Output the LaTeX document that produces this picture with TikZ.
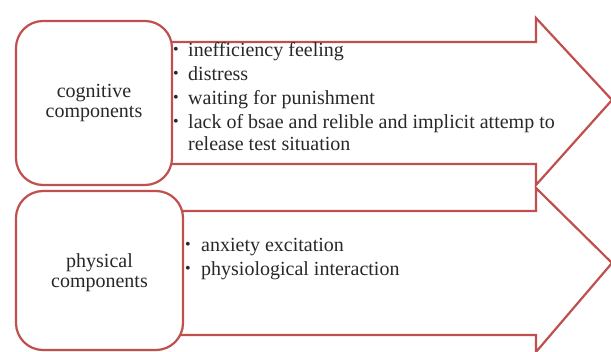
\documentclass[tikz,border=0pt]{standalone}
\usepackage{fontspec}
\setmainfont{Liberation Serif}
\definecolor{edge}{RGB}{192,80,77}
\definecolor{ink}{RGB}{40,40,40}
\tikzset{
  shape line/.style={draw=edge, line width=2.2pt, fill=white, line join=miter},
  compbox/.style={draw=edge, line width=2.2pt, fill=white, rounded corners=27pt},
  boxtext/.style={font=\fontsize{20}{20}\selectfont, text=ink, align=center, inner sep=0pt},
  item/.style={font=\fontsize{20}{20}\selectfont, text=ink, anchor=base west, inner sep=0pt},
  dot/.style={font=\fontsize{16}{16}\selectfont, text=ink, anchor=center, inner sep=0pt}
}
\begin{document}
\begin{tikzpicture}[x=1pt,y=-1pt]
\useasboundingbox (0,0) rectangle (611,352);
% top arrow
\draw[shape line] (100,42) -- (536,42) -- (536,18) -- (612,100) -- (536,185) -- (536,164) -- (100,164) -- cycle;
% bottom arrow
\draw[shape line] (100,211) -- (536,211) -- (536,188) -- (612,263) -- (536,352) -- (536,335) -- (100,335) -- cycle;
% boxes
\draw[compbox] (16,21) rectangle (172,185);
\draw[compbox] (16,191) rectangle (183,350);
\node[boxtext] (cog) at (94,103) {cognitive\\components};
\node[boxtext] (phy) at (99.5,273) {physical\\components};
% top bullets
\node[dot] (b1) at (176,51) {•};
\node[item] (t1) at (188,57) {inefficiency feeling};
\node[dot] (b2) at (176,75) {•};
\node[item] (t2) at (188,81) {distress};
\node[dot] (b3) at (176,99) {•};
\node[item] (t3) at (188,105) {waiting for punishment};
\node[dot] (b4) at (176,123) {•};
\node[item] (t4) at (188,129) {lack of bsae and relible and implicit attemp to};
\node[item] (t5) at (188,151) {release test situation};
% bottom bullets
\node[dot] (b6) at (188,246) {•};
\node[item] (t6) at (201,252) {anxiety excitation};
\node[dot] (b7) at (188,270) {•};
\node[item] (t7) at (201,276) {physiological interaction};
\end{tikzpicture}
\end{document}
